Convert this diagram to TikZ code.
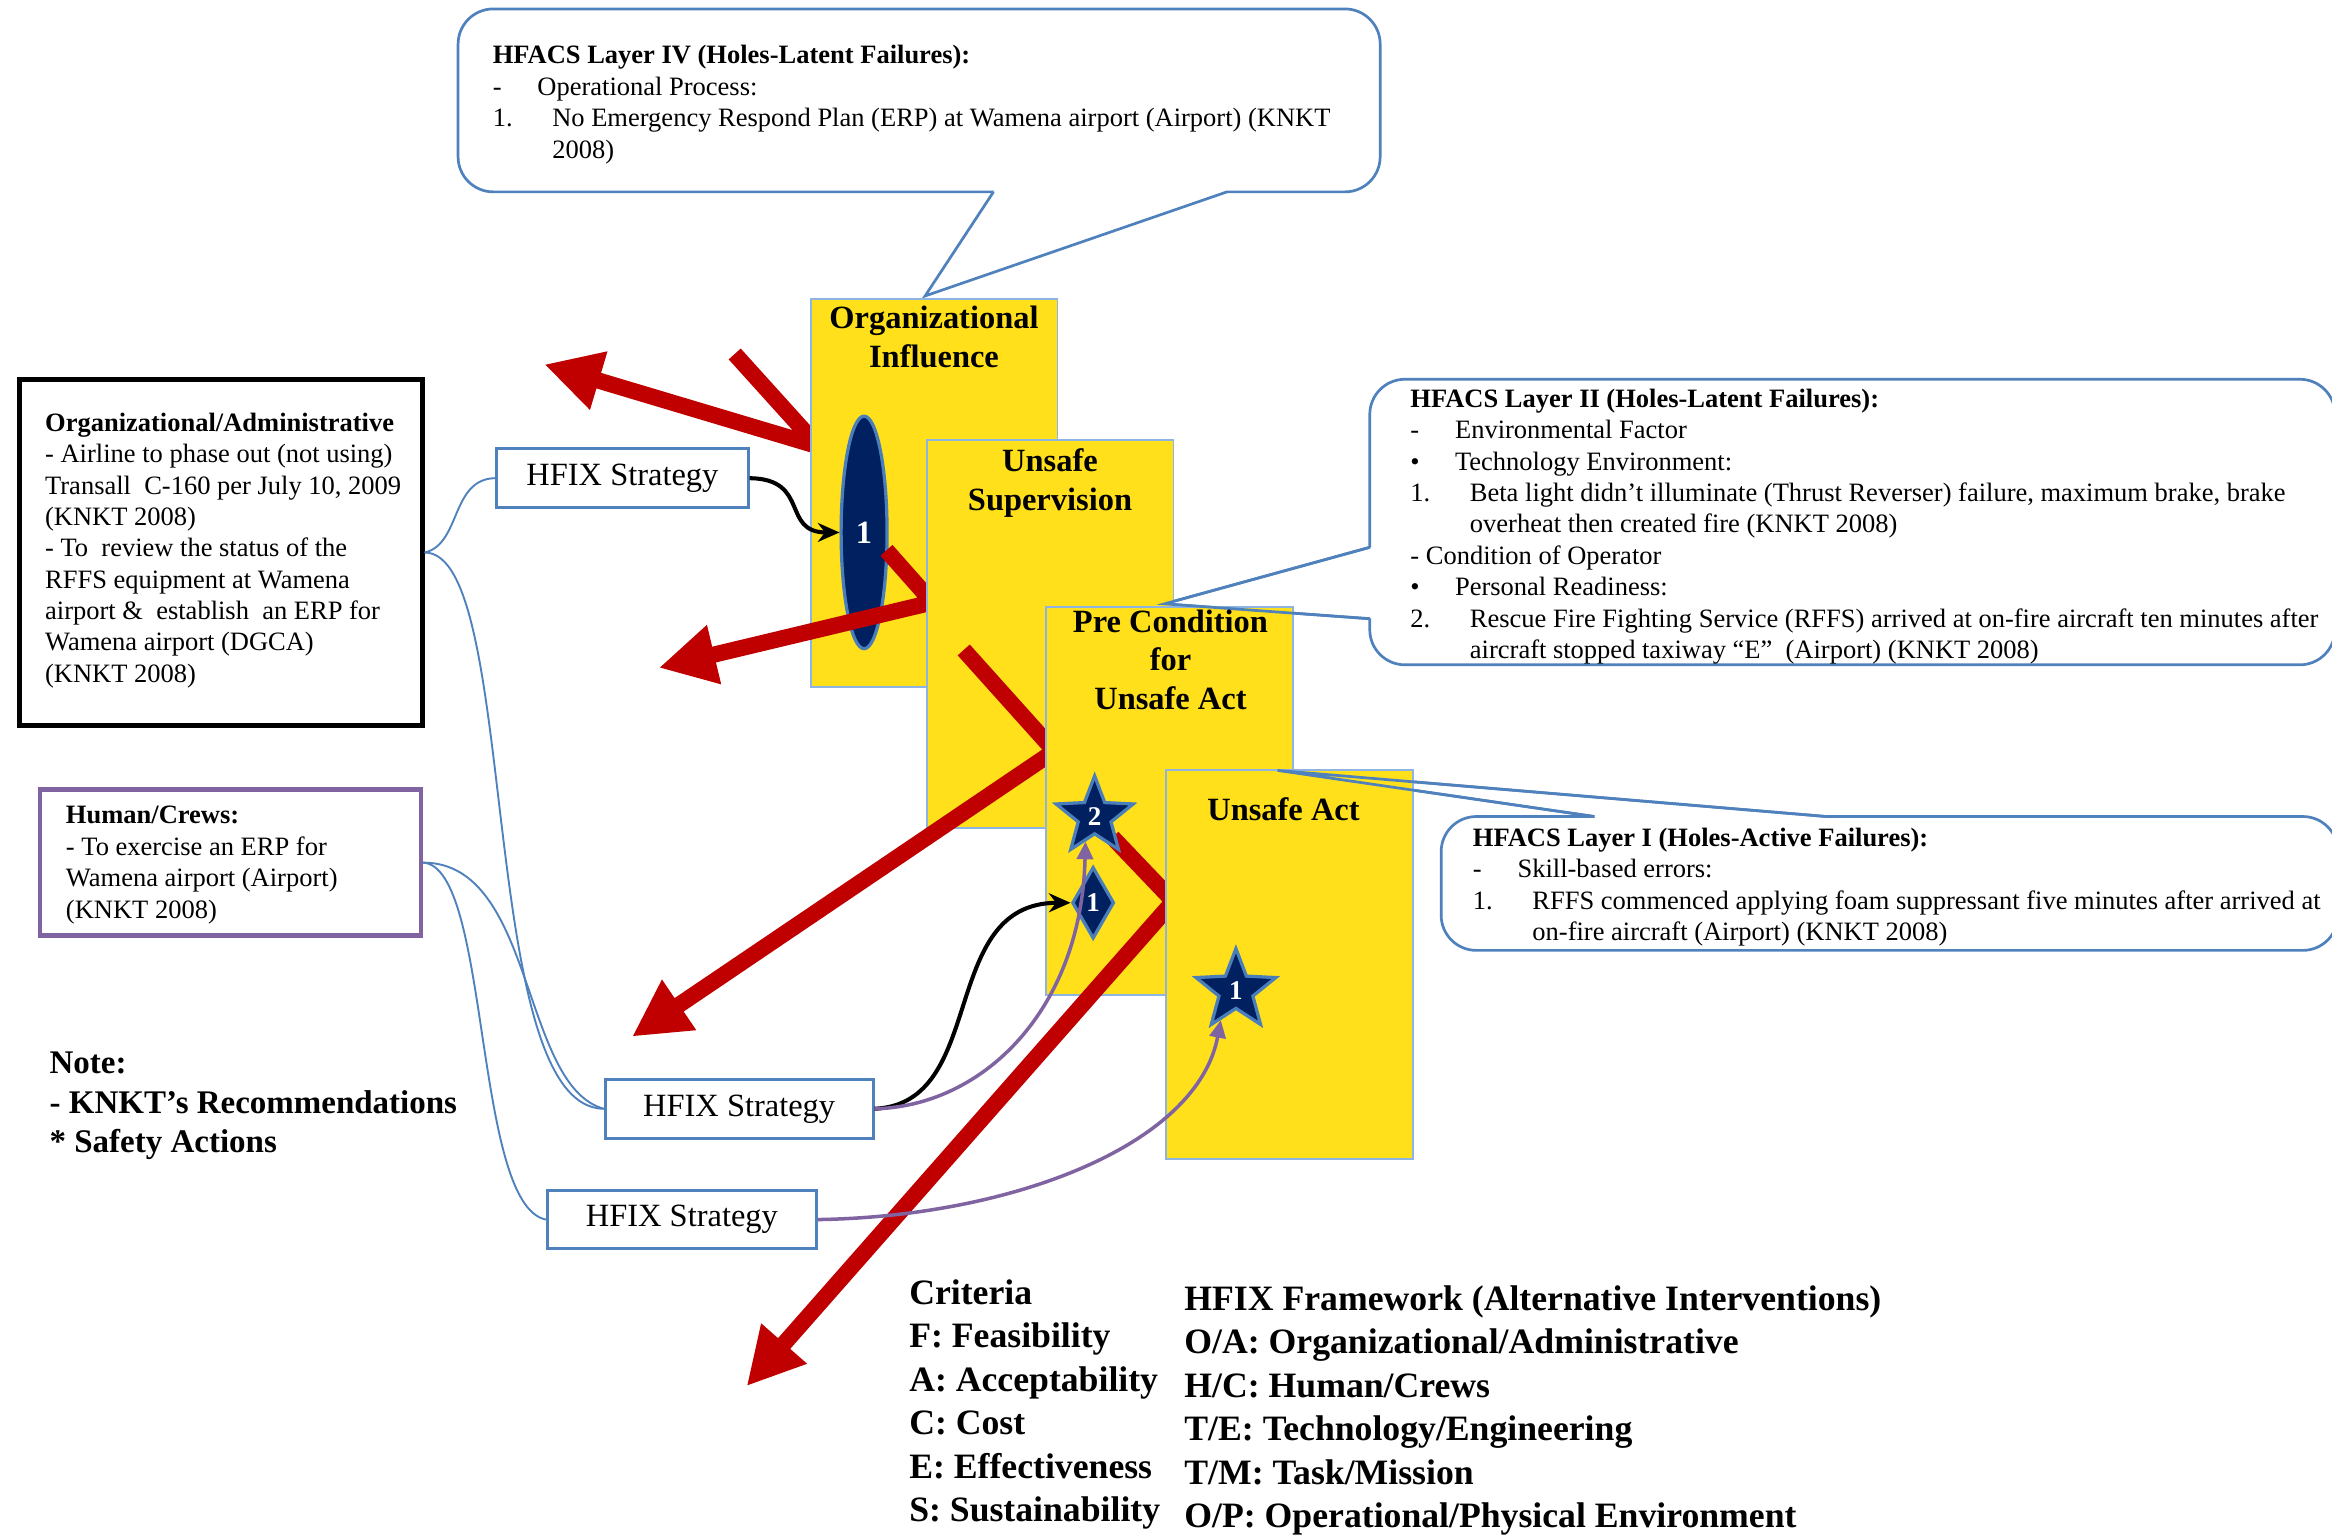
\documentclass[tikz,border=0pt]{standalone}
\usepackage{fontspec}
\setmainfont{Liberation Serif}
\usetikzlibrary{arrows.meta,shapes.geometric}

\definecolor{layerfill}{HTML}{FFE01A}
\definecolor{layeredge}{HTML}{8EB4E3}
\definecolor{boxblue}{HTML}{4F81BD}
\definecolor{riskred}{HTML}{C00000}
\definecolor{markernavy}{HTML}{002060}
\definecolor{markeredge}{HTML}{4A7EBB}
\definecolor{hcpurple}{HTML}{8064A2}

\newcommand\bodysize{\fontsize{9.8}{11.6}\selectfont}
\newcommand\layersize{\fontsize{12}{14.3}\selectfont\bfseries}
\newcommand\legendsize{\fontsize{13.2}{16.06}\selectfont\bfseries}
\newcommand\notesize{\fontsize{12.2}{14.6}\selectfont\bfseries}
\newcommand\dashlbl[1]{\makebox[16.5pt][l]{#1}}
\newcommand\numlbl[1]{\makebox[22pt][l]{#1}}

\begin{document}
\begin{tikzpicture}[x=0.55pt, y=-0.55pt,
  layer/.style={draw=layeredge, fill=layerfill, line width=0.7pt,
    minimum width=91.3pt, minimum height=143.55pt, inner sep=0},
  balloon/.style={draw=boxblue, fill=white, line width=1pt, rounded corners=13pt},
  balloontail/.style={draw=boxblue, line width=1pt, line join=miter},
  txt/.style={inner sep=0, font=\bodysize},
  layertitle/.style={inner sep=0, font=\layersize},
  hfixbox/.style={draw=boxblue, fill=white, line width=1.1pt, inner sep=0,
    minimum height=21.7pt, font=\fontsize{12}{14}\selectfont},
  failpath/.style={draw=riskred, line width=6pt, line join=miter,
    -{Triangle[length=21pt,width=21pt]}},
  holemark/.style={fill=markernavy, draw=markeredge, line width=1.2pt,
    inner sep=0, text=white},
  wire/.style={draw=boxblue, line width=0.7pt},
  fixarrow/.style={draw=black, line width=1.5pt, -{Stealth[length=8pt,width=7pt]}},
  hcarrow/.style={draw=hcpurple, line width=1.3pt, -{Triangle[length=6.5pt,width=6pt]}},
]
\useasboundingbox (0,0) rectangle (1568,1035);

% ---------- speech balloons ----------
\draw[balloon] (308,6) rectangle (928,129);
\fill[white] (670,125) -- (823,125) -- (825,129) -- (622,199) -- (668,129) -- cycle;
\draw[balloontail] (668,129) -- (622,199) -- (825,129);

\draw[balloon] (921,255) rectangle (1570,447);
\fill[white] (925,370) -- (921,368) -- (783,406) -- (921,416) -- (925,414) -- cycle;
\draw[balloontail] (921,368) -- (783,406) -- (921,416);

\draw[balloon] (969,549) rectangle (1572,639);
\fill[white] (1072,549) -- (859,518) -- (1228,549) -- (1226,553) -- (1074,553) -- cycle;
\draw[balloontail] (1072,549) -- (859,518) -- (1228,549);

% ---------- layers with failure paths ----------
\draw[failpath] (494,238) -- (550,300) -- (366,245);
\node[layer] (oi) at (628,331.5) {};
\node[holemark, ellipse, minimum width=17pt, minimum height=86pt,
  font=\fontsize{12}{12}\selectfont\bfseries] (e1) at (581,358) {1};
\draw[failpath] (596,370) -- (627,405) -- (443,449);
\node[layer] (us) at (706,426.5) {};
\draw[failpath] (648,437) -- (709,505) -- (425,697);
\node[layer] (pc) at (786.5,538.5) {};
\draw[failpath] (748,563) -- (789,606) -- (502,932);
\node[holemark, star, star points=5, star point ratio=2.35, minimum size=30pt,
  font=\fontsize{10}{10}\selectfont\bfseries] (s2) at (736,549) {2};
\node[holemark, diamond, minimum width=15.5pt, minimum height=26.5pt,
  font=\fontsize{10}{10}\selectfont\bfseries] (d1) at (735,607) {1};
\node[layer] (ua) at (867,648.5) {};
\node[holemark, star, star points=5, star point ratio=2.35, minimum size=31pt,
  font=\fontsize{10}{10}\selectfont\bfseries] (s1) at (831,666) {1};

% balloon tails over the layers
\draw[balloontail] (921,368) -- (783,406) -- (921,416);
\draw[balloontail] (1072,549) -- (859,518) -- (1228,549);

% layer titles
\node[layertitle, anchor=base] (oi-t) at (628,221)
  {\begin{tabular}[t]{@{}c@{}}Organizational\\Influence\end{tabular}};
\node[layertitle, anchor=base] (us-t) at (706,317)
  {\begin{tabular}[t]{@{}c@{}}Unsafe\\Supervision\end{tabular}};
\node[layertitle, anchor=base] (pc-t) at (787,425)
  {\begin{tabular}[t]{@{}c@{}}Pre Condition\\for\\Unsafe Act\end{tabular}};
\node[layertitle, anchor=base] (ua-t) at (863,552) {Unsafe Act};

% ---------- balloon texts ----------
\node[txt, anchor=base west] (l4-t) at (331,43) {\begin{tabular}[t]{@{}l@{}}
\textbf{HFACS Layer IV (Holes-Latent Failures):}\\
\dashlbl{-}Operational Process:\\
\numlbl{1.}No Emergency Respond Plan (ERP) at Wamena airport (Airport) (KNKT\\
\hspace*{22pt}2008)
\end{tabular}};

\node[txt, anchor=base west] (l2-t) at (948,274) {\begin{tabular}[t]{@{}l@{}}
\textbf{HFACS Layer II (Holes-Latent Failures):}\\
\dashlbl{-}Environmental Factor\\
\dashlbl{\textbullet}Technology Environment:\\
\numlbl{1.}Beta light didn’t illuminate (Thrust Reverser) failure, maximum brake,  brake\\
\hspace*{22pt}overheat then created fire (KNKT 2008)\\
- Condition of Operator\\
\dashlbl{\textbullet}Personal Readiness:\\
\numlbl{2.}Rescue Fire Fighting Service (RFFS) arrived at  on-fire aircraft ten minutes after\\
\hspace*{22pt}aircraft stopped taxiway “E”~~(Airport) (KNKT 2008)
\end{tabular}};

\node[txt, anchor=base west] (l1-t) at (990,569) {\begin{tabular}[t]{@{}l@{}}
\textbf{HFACS Layer I (Holes-Active Failures):}\\
\dashlbl{-}Skill-based errors:\\
\numlbl{1.}RFFS commenced applying foam suppressant five minutes after arrived at\\
\hspace*{22pt}on-fire aircraft (Airport) (KNKT 2008)
\end{tabular}};

% ---------- recommendation boxes ----------
\node[draw=black, line width=1.7pt, minimum width=149pt, minimum height=128.15pt,
  inner sep=0] (oa) at (148.5,371.5) {};
\node[txt, anchor=base west] (oa-t) at (30,290) {\begin{tabular}[t]{@{}l@{}}
\textbf{Organizational/Administrative}\\
- Airline to phase out (not using)\\
Transall~ C-160 per July 10, 2009\\
(KNKT 2008)\\
- To~ review the status of the\\
RFFS equipment at Wamena\\
airport \&~ establish~ an ERP for\\
Wamena airport (DGCA)\\
(KNKT 2008)
\end{tabular}};

\node[draw=hcpurple, line width=1.7pt, minimum width=140.8pt, minimum height=53.9pt,
  inner sep=0] (hc) at (155,580) {};
\node[txt, anchor=base west] (hc-t) at (44,554) {\begin{tabular}[t]{@{}l@{}}
\textbf{Human/Crews:}\\
- To exercise an ERP for\\
Wamena airport (Airport)\\
(KNKT 2008)
\end{tabular}};

\node[hfixbox, minimum width=93pt] (h1) at (418.5,321.5) {HFIX Strategy};
\node[hfixbox, minimum width=99pt] (h2) at (497,745.5) {HFIX Strategy};
\node[hfixbox, minimum width=99.5pt] (h3) at (458.5,820) {HFIX Strategy};

% brace-like links from recommendations to strategies
\draw[wire] (oa.east) .. controls (310,366) and (303,322) .. (h1.west);
\draw[wire] (oa.east) .. controls (350,371) and (320,745) .. (h2.west);
\draw[wire] (hc.east) .. controls (360,580) and (350,730) .. (h2.west);
\draw[wire] (hc.east) .. controls (330,583) and (318,810) .. (h3.west);

% strategies acting on the holes
\draw[fixarrow] (h1.east) .. controls (545,322) and (525,358) .. (e1.west);
\draw[fixarrow] (h2.east) .. controls (665,742) and (630,607) .. (d1.west);
\draw[hcarrow] (h2.east) .. controls (660,744) and (727,680) .. (s2.250);
\draw[hcarrow] (h3.east) .. controls (680,818) and (805,770) .. (s1.243);

% ---------- notes and legends ----------
\node[inner sep=0, font=\notesize, anchor=base west] (note) at (33,722)
  {\begin{tabular}[t]{@{}l@{}}Note:\\- KNKT’s Recommendations\\\relax * Safety Actions\end{tabular}};

\node[inner sep=0, font=\legendsize, anchor=base west] (crit) at (611,877)
  {\begin{tabular}[t]{@{}l@{}}Criteria\\F: Feasibility\\A: Acceptability\\C: Cost\\E: Effectiveness\\S: Sustainability\end{tabular}};

\node[inner sep=0, font=\legendsize, anchor=base west] (frame) at (796,881)
  {\begin{tabular}[t]{@{}l@{}}HFIX Framework (Alternative Interventions)\\O/A: Organizational/Administrative\\H/C: Human/Crews\\T/E: Technology/Engineering\\T/M: Task/Mission\\O/P: Operational/Physical Environment\end{tabular}};
\end{tikzpicture}
\end{document}
